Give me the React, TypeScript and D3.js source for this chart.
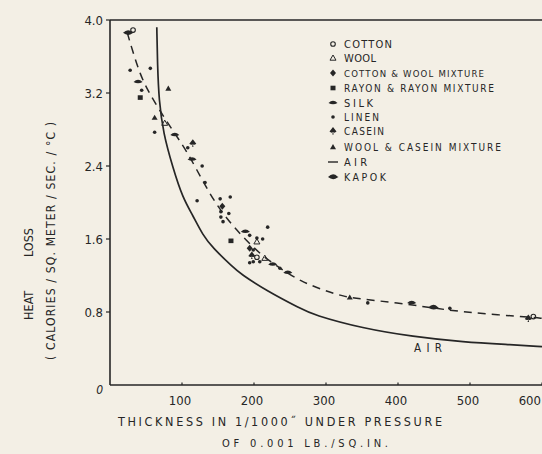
import React from "react";
import * as d3 from "d3";

// ---- data ----
const xTicks = [100, 200, 300, 400, 500, 600];
const yTicks = [0.8, 1.6, 2.4, 3.2, 4.0];
const yTickLabels = ["0.8", "1.6", "2.4", "3.2", "4.0"];

const airX = [65, 66, 68, 74, 87, 101, 115, 129, 143, 171, 181, 218, 264, 282, 351, 421, 490, 560, 600];
const airY = [3.92, 3.5, 3.12, 2.76, 2.39, 2.05, 1.86, 1.64, 1.5, 1.29, 1.22, 1.03, 0.84, 0.77, 0.62, 0.53, 0.47, 0.44, 0.42];

const fitX = [24, 31, 42, 53, 69, 87, 107, 129, 149, 171, 190, 212, 240, 264, 296, 324, 351, 399, 444, 490, 538, 588, 600];
const fitY = [3.86, 3.67, 3.4, 3.22, 3.01, 2.79, 2.56, 2.23, 1.96, 1.74, 1.58, 1.41, 1.26, 1.14, 1.04, 0.97, 0.94, 0.9, 0.85, 0.8, 0.77, 0.74, 0.73];

const cottonPts = [[32, 3.89], [204, 1.4], [588, 0.75]];
const woolPts = [[76, 2.87], [204, 1.57], [215, 1.39]];
const cottonWoolPts = [[156, 1.96], [194, 1.5]];
const rayonPts = [[42, 3.15], [168, 1.58]];
const silkPts = [[39, 3.32], [90, 2.74], [114, 2.47], [188, 1.68], [226, 1.32], [247, 1.23], [419, 0.9]];
const linenPts = [
  [28, 3.45], [56, 3.47], [44, 3.23], [62, 2.77], [108, 2.6], [128, 2.4], [132, 2.22],
  [121, 2.02], [153, 2.04], [167, 2.06], [154, 1.9], [165, 1.88], [154, 1.84], [157, 1.79],
  [219, 1.73], [194, 1.64], [204, 1.61], [212, 1.6], [199, 1.48], [199, 1.35], [208, 1.35],
  [194, 1.34], [236, 1.28], [358, 0.9], [472, 0.84]
];
const caseinPts = [[115, 2.65], [197, 1.42], [581, 0.73]];
const woolCaseinPts = [[81, 3.25], [62, 2.93], [333, 0.96]];
const kapokPts = [[25, 3.86], [449, 0.85]];

const legendItems = [
  { key: "cotton", label: "COTTON", size: 11, len: 48 },
  { key: "wool", label: "WOOL", size: 11, len: 32 },
  { key: "cottonWool", label: "COTTON & WOOL MIXTURE", size: 9.5, len: 140 },
  { key: "rayon", label: "RAYON & RAYON MIXTURE", size: 10, len: 150 },
  { key: "silk", label: "SILK", size: 11, len: 29 },
  { key: "linen", label: "LINEN", size: 10, len: 35 },
  { key: "casein", label: "CASEIN", size: 10, len: 40 },
  { key: "woolCasein", label: "WOOL & CASEIN  MIXTURE", size: 10, len: 157 },
  { key: "air", label: "AIR", size: 11, len: 23 },
  { key: "kapok", label: "KAPOK", size: 10.5, len: 42 },
];

const INK = "#262626";
const FONT = "'DejaVu Sans Condensed', 'DejaVu Sans', sans-serif";

function Marker({ kind, x, y }: { kind: string; x: number; y: number }) {
  switch (kind) {
    case "cotton":
      return <circle cx={x} cy={y} r={2.3} fill="none" stroke={INK} strokeWidth={1.1} />;
    case "wool":
      return <path d={`M${x},${y - 3}L${x + 3},${y + 2.2}L${x - 3},${y + 2.2}Z`} fill="none" stroke={INK} strokeWidth={1} />;
    case "cottonWool":
      return <path d={`M${x},${y - 3.5}L${x + 3},${y}L${x},${y + 3.5}L${x - 3},${y}Z`} fill={INK} />;
    case "rayon":
      return <rect x={x - 2.5} y={y - 2.3} width={5} height={4.6} fill={INK} />;
    case "silk":
      return <path d={`M${x - 4.5},${y}Q${x},${y - 4.5} ${x + 4.5},${y}Q${x},${y + 2.5} ${x - 4.5},${y}Z`} fill={INK} />;
    case "linen":
      return <circle cx={x} cy={y} r={1.8} fill={INK} />;
    case "casein":
      return (
        <path
          d={`M${x},${y - 4}L${x + 3.5},${y + 0.5}Q${x + 1.5},${y + 2.5} ${x},${y + 1}L${x + 0.8},${y + 3.5}L${x - 0.8},${y + 3.5}L${x},${y + 1}Q${x - 1.5},${y + 2.5} ${x - 3.5},${y + 0.5}Z`}
          fill={INK}
        />
      );
    case "woolCasein":
      return <path d={`M${x},${y - 3}L${x + 3},${y + 2.2}L${x - 3},${y + 2.2}Z`} fill={INK} />;
    case "air":
      return <line x1={x - 5} x2={x + 5} y1={y} y2={y} stroke={INK} strokeWidth={1.4} />;
    case "kapok":
      return (
        <path d={`M${x - 5},${y}Q${x},${y - 5} ${x + 4.5},${y - 0.5}L${x + 5.5},${y}L${x + 4.5},${y + 0.5}Q${x},${y + 4} ${x - 5},${y}Z`} fill={INK} />
      );
    default:
      return null;
  }
}

export default function App() {
  const W = 542, H = 454;
  const x = d3.scaleLinear().domain([0, 600]).range([110, 542]);
  const y = d3.scaleLinear().domain([0, 4]).range([385, 20]);

  const airPath = d3
    .line<number>()
    .curve(d3.curveBasis)
    .x((_, i) => x(airX[i]))
    .y((_, i) => y(airY[i]))(airX) || "";
  const fitPath = d3
    .line<number>()
    .curve(d3.curveBasis)
    .x((_, i) => x(fitX[i]))
    .y((_, i) => y(fitY[i]))(fitX) || "";

  const series: [string, number[][]][] = [
    ["cotton", cottonPts],
    ["wool", woolPts],
    ["cottonWool", cottonWoolPts],
    ["rayon", rayonPts],
    ["silk", silkPts],
    ["linen", linenPts],
    ["casein", caseinPts],
    ["woolCasein", woolCaseinPts],
    ["kapok", kapokPts],
  ];

  const x0 = x(0), yBottom = y(0), yTop = y(4);

  return (
    <svg
      width={W}
      height={H}
      viewBox={`0 0 ${W} ${H}`}
      style={{ position: "absolute", left: 0, top: 0, background: "#f3efe5" }}
      fontFamily={FONT}
    >
      <rect x={0} y={0} width={W} height={H} fill="#f3efe5" />

      {/* frame */}
      <line x1={x0} x2={x0} y1={yTop} y2={yBottom} stroke={INK} strokeWidth={1.6} />
      <line x1={x0} x2={W} y1={yBottom} y2={yBottom} stroke={INK} strokeWidth={1.6} />
      <line x1={x0} x2={W} y1={yTop} y2={yTop} stroke={INK} strokeWidth={1.4} />

      {/* y ticks */}
      {yTicks.map((t, i) => (
        <g key={"yt" + i}>
          <line x1={x0 - 4} x2={x0} y1={y(t)} y2={y(t)} stroke={INK} strokeWidth={1.2} />
          <text x={x0 - 7} y={y(t) + 5} textAnchor="end" fontSize={13} fill={INK}>
            {yTickLabels[i]}
          </text>
        </g>
      ))}
      <text x={x0 - 7} y={yBottom + 9} textAnchor="end" fontSize={12} fontStyle="italic" fill={INK}>
        0
      </text>

      {/* x ticks */}
      {xTicks.map((t) => (
        <g key={"xt" + t}>
          <line x1={x(t)} x2={x(t)} y1={yBottom - 2.5} y2={yBottom} stroke={INK} strokeWidth={1.2} />
          <text
            x={t === 600 ? W - 1 : x(t) - 2}
            y={yBottom + 20}
            textAnchor={t === 600 ? "end" : "middle"}
            fontSize={13}
            fill={INK}
          >
            {t}
          </text>
        </g>
      ))}

      {/* axis titles */}
      <text x={118} y={yBottom + 41} fontSize={12.5} fill={INK} textLength={324} lengthAdjust="spacing">
        {"THICKNESS IN 1/1000\u02DD UNDER PRESSURE"}
      </text>
      <text x={222} y={yBottom + 62} fontSize={11} fill={INK} textLength={166} lengthAdjust="spacing">
        {"OF 0.001 LB./SQ.IN."}
      </text>
      <text transform={`translate(33,274) rotate(-90)`} textAnchor="middle" fontSize={12.5} fill={INK}>
        {"HEAT\u2003\u2003\u2003LOSS"}
      </text>
      <text
        transform={`translate(55,241) rotate(-90)`}
        x={-119}
        fontSize={12}
        fill={INK}
        textLength={238}
        lengthAdjust="spacing"
      >
        {"( CALORIES / SQ. METER / SEC. / \u00B0C )"}
      </text>

      {/* curves */}
      <path d={airPath} fill="none" stroke={INK} strokeWidth={1.7} />
      <path d={fitPath} fill="none" stroke={INK} strokeWidth={1.5} strokeDasharray="8 6" />
      <text x={414} y={352} fontSize={11.5} fill={INK} textLength={28} lengthAdjust="spacing">
        AIR
      </text>

      {/* points */}
      {series.map(([kind, pts]) =>
        pts.map((p, i) => <Marker key={kind + i} kind={kind} x={x(p[0])} y={y(p[1])} />)
      )}

      {/* legend */}
      {legendItems.map((it, i) => {
        const ys = [44, 58, 73, 88, 103, 117, 131, 147, 162, 177];
        const cy = ys[i];
        return (
          <g key={it.key}>
            <Marker kind={it.key} x={333} y={cy} />
            <text x={344} y={cy + 4} fontSize={it.size} fill={INK} textLength={it.len} lengthAdjust="spacing">
              {it.label}
            </text>
          </g>
        );
      })}
    </svg>
  );
}
